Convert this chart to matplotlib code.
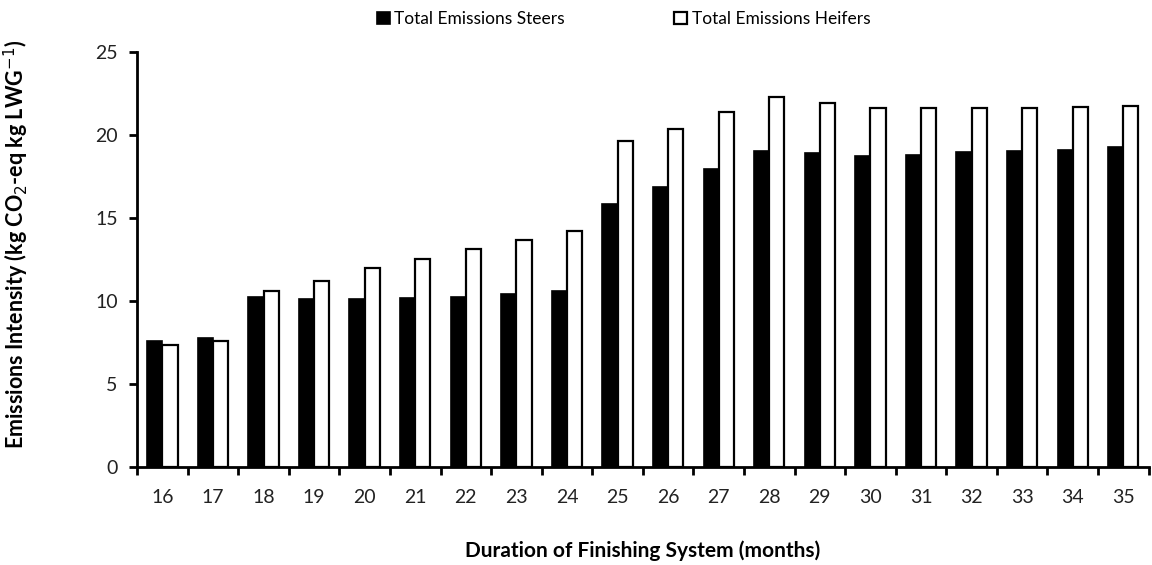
import matplotlib
matplotlib.use("Agg")
import matplotlib.pyplot as plt
import numpy as np

plt.rcParams['font.family'] = ['Lato', 'DejaVu Sans']

months = [16, 17, 18, 19, 20, 21, 22, 23, 24, 25, 26, 27, 28, 29, 30, 31, 32, 33, 34, 35]
steers = [7.6, 7.75, 10.25, 10.1, 10.1, 10.15, 10.25, 10.4, 10.6, 15.85, 16.85, 17.95,
          19.0, 18.9, 18.7, 18.8, 18.95, 19.0, 19.1, 19.25]
heifers = [7.35, 7.6, 10.6, 11.2, 12.0, 12.5, 13.1, 13.65, 14.2, 19.6, 20.35, 21.35,
           22.3, 21.9, 21.6, 21.6, 21.6, 21.6, 21.65, 21.75]
yticks = [0, 5, 10, 15, 20, 25]

fig = plt.figure(figsize=(11.52, 5.65), dpi=100)
ax = fig.add_axes([0.119, 0.1735, 0.878, 0.735])

x = np.arange(len(months))
w = 0.3
ax.bar(x - w / 2, steers, width=w, color='black', edgecolor='black', linewidth=1.2,
       label='Total Emissions Steers')
ax.bar(x + w / 2, heifers, width=w, color='white', edgecolor='black', linewidth=1.6,
       label='Total Emissions Heifers')

ax.set_xlim(-0.5, len(months) - 0.5)
ax.set_ylim(0, 25)
ax.set_yticks(yticks)
ax.set_yticklabels([str(t) for t in yticks], fontsize=14, color='#222222')

# category labels centred, tick marks on category boundaries
ax.set_xticks(x)
ax.set_xticklabels([str(m) for m in months], fontsize=14, color='#222222')
ax.tick_params(axis='x', which='major', length=0, pad=16)
ax.set_xticks(np.arange(len(months) + 1) - 0.5, minor=True)
ax.tick_params(axis='x', which='minor', length=6, width=2, direction='out')
ax.tick_params(axis='y', length=6, width=2, direction='out', pad=8)

for side in ['top', 'right']:
    ax.spines[side].set_visible(False)
for side in ['left', 'bottom']:
    ax.spines[side].set_linewidth(2)

ax.set_ylabel('Emissions Intensity (kg CO$_2$-eq kg LWG$^{-1}$)', fontsize=15.5,
              fontweight='bold')
ax.yaxis.set_label_coords(-0.105, 0.535)
ax.set_xlabel('Duration of Finishing System (months)', fontsize=15,
              fontweight='bold')
ax.xaxis.label.set_verticalalignment('center')
ax.xaxis.set_label_coords(0.5, -0.202)

fig.legend(loc='upper left', bbox_to_anchor=(377 / 1152, 1 - 11 / 565), ncol=2,
           frameon=False, fontsize=12.5, handlelength=0.75, handleheight=0.75,
           handletextpad=0.25, columnspacing=6.3, borderpad=0, borderaxespad=0)

fig.savefig('out.png', dpi=100)
